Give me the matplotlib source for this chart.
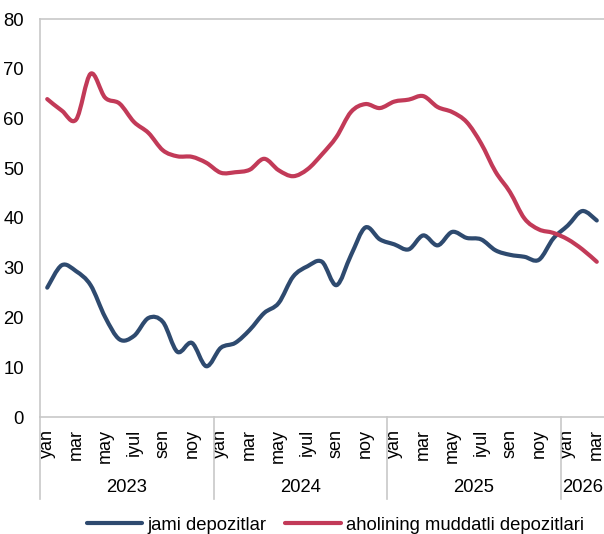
import matplotlib
matplotlib.use("Agg")
import matplotlib.pyplot as plt
from matplotlib.path import Path
from matplotlib.patches import PathPatch
from matplotlib.lines import Line2D
import matplotlib.transforms as mtransforms
import numpy as np

plt.rcParams['font.family'] = ['Liberation Sans', 'DejaVu Sans']

years = ["2023", "2024", "2025", "2026"]
year_months = [12, 12, 12, 3]
month_names = ["yan", "fev", "mar", "apr", "may", "iyun", "iyul", "avg", "sen", "okt", "noy", "dek"]
shown_months = ["yan", "mar", "may", "iyul", "sen", "noy"]

jami = [26.0, 30.5, 29.3, 26.5, 20.1, 15.6, 16.3, 19.9, 19.1, 13.1, 14.9, 10.2,
        13.9, 14.9, 17.5, 20.9, 22.9, 28.2, 30.3, 31.2, 26.5, 32.5, 38.1, 35.7,
        34.7, 33.7, 36.5, 34.5, 37.2, 36.0, 35.7, 33.5, 32.6, 32.2, 31.6, 35.9,
        38.5, 41.4, 39.5]
aholi = [63.9, 61.6, 59.8, 69.0, 64.2, 63.0, 59.3, 57.1, 53.6, 52.4, 52.3, 51.1,
         49.1, 49.2, 49.7, 51.9, 49.6, 48.4, 49.8, 52.8, 56.3, 61.3, 62.9, 62.1,
         63.4, 63.8, 64.5, 62.3, 61.3, 59.3, 55.0, 49.3, 45.2, 39.9, 37.7, 37.0,
         35.7, 33.7, 31.2]
series_names = ["jami depozitlar", "aholining muddatli depozitlari"]
colors = ["#2E4A6F", "#C23A58"]

fig = plt.figure(figsize=(6.04, 5.34), dpi=100)
ax = fig.add_axes([40/604, (534-417)/534, 564/604, 398/534])

n = len(jami)
x = np.arange(n)


def smooth_path(xs, ys):
    pts = np.column_stack([xs, ys]).astype(float)
    verts = [pts[0]]
    codes = [Path.MOVETO]
    for i in range(len(pts) - 1):
        p0 = pts[i - 1] if i > 0 else pts[i]
        p1 = pts[i]
        p2 = pts[i + 1]
        p3 = pts[i + 2] if i + 2 < len(pts) else pts[i + 1]
        c1 = p1 + (p2 - p0) / 6.0
        c2 = p2 - (p3 - p1) / 6.0
        verts += [c1, c2, p2]
        codes += [Path.CURVE4] * 3
    return Path(verts, codes)


for vals, c in zip([jami, aholi], colors):
    patch = PathPatch(smooth_path(x, vals), facecolor='none', edgecolor=c,
                      lw=3.0, capstyle='round', joinstyle='round')
    ax.add_patch(patch)

ax.set_xlim(-0.5, n - 0.5)
ax.set_ylim(0, 80)
ax.set_yticks(np.arange(0, 81, 10))
ax.tick_params(axis='y', length=0, pad=11.5, labelsize=13.3)

# month tick labels
ticks = []
labels = []
idx = 0
for ym in year_months:
    for m in range(ym):
        name = month_names[m]
        if name in shown_months:
            ticks.append(idx + m)
            labels.append(name)
    idx += ym
ax.set_xticks(ticks)
ax.set_xticklabels(labels, rotation=90, fontsize=13.0)
ax.tick_params(axis='x', length=0, pad=8.5)

for s in ['left', 'top', 'bottom']:
    ax.spines[s].set_color('#C8C8C8')
    ax.spines[s].set_linewidth(1.2)
ax.spines['right'].set_visible(False)

trans = mtransforms.blended_transform_factory(ax.transData, ax.transAxes)
sep_bottom = (417 - 499) / 398
year_y = (417 - 488) / 398
start = 0
bounds = [-0.5]
for yr, ym in zip(years, year_months):
    center = start + (ym - 1) / 2.0
    ax.text(center, year_y, yr, transform=trans, ha='center', va='center',
            fontsize=13.3)
    start += ym
    bounds.append(start - 0.5)
for b in bounds[:-1]:
    ax.add_line(Line2D([b, b], [0, sep_bottom], transform=trans, color='#C8C8C8',
                       lw=1.2, clip_on=False))

handles = [Line2D([], [], color=c, lw=3.0, solid_capstyle='round') for c in colors]
fig.legend(handles, series_names, loc='center', ncol=2,
           bbox_to_anchor=(0.5555, (534 - 525) / 534), frameon=False,
           fontsize=13.3, handlelength=3.0, handletextpad=0.3,
           columnspacing=1.0, borderaxespad=0, borderpad=0)

fig.savefig("out.png", dpi=100)
